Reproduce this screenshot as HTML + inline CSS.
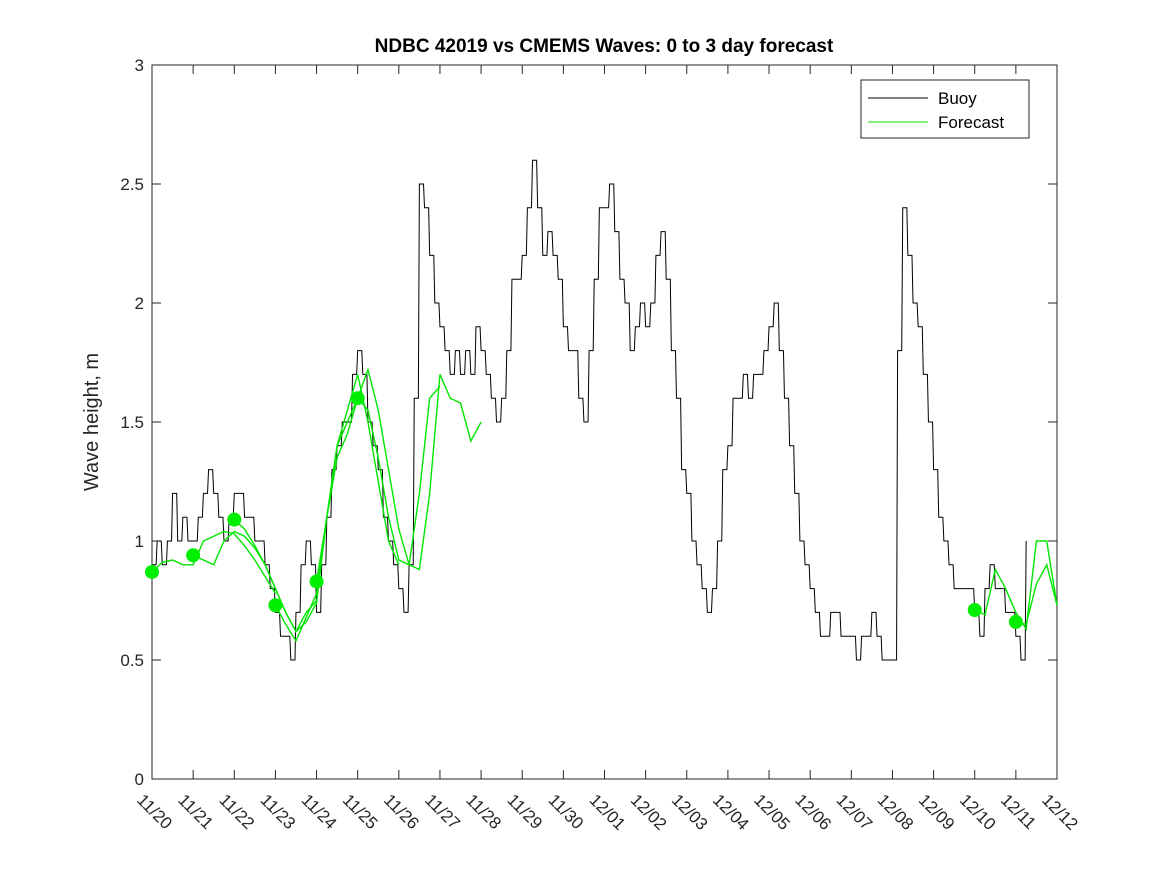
<!DOCTYPE html>
<html><head><meta charset="utf-8"><style>
body{margin:0;background:#fff}
svg{display:block;font-family:"Liberation Sans",sans-serif}
</style></head><body>
<svg id="chart" width="1167" height="875"></svg>
<script>
const dateLabels=["11/20","11/21","11/22","11/23","11/24","11/25","11/26","11/27","11/28","11/29","11/30","12/01","12/02","12/03","12/04","12/05","12/06","12/07","12/08","12/09","12/10","12/11","12/12"];
const yTicks=[0,0.5,1,1.5,2,2.5,3];
// buoy, 3-hourly values starting 11/20
const buoy=[0.9,1.0,0.9,1.0,1.2,1.0,1.1,1.0,
1.0,1.1,1.2,1.3,1.2,1.1,1.0,1.1,
1.2,1.2,1.1,1.1,1.0,1.0,0.9,0.8,
0.7,0.6,0.6,0.5,0.7,0.9,1.0,0.9,
0.7,0.9,1.1,1.3,1.4,1.5,1.5,1.7,
1.8,1.7,1.5,1.4,1.3,1.1,1.0,0.9,
0.8,0.7,0.9,1.6,2.5,2.4,2.2,2.0,
1.9,1.8,1.7,1.8,1.7,1.8,1.7,1.9,
1.8,1.7,1.6,1.5,1.6,1.8,2.1,2.1,
2.2,2.4,2.6,2.4,2.2,2.3,2.2,2.1,
1.9,1.8,1.8,1.6,1.5,1.8,2.1,2.4,
2.4,2.5,2.3,2.1,2.0,1.8,1.9,2.0,
1.9,2.0,2.2,2.3,2.1,1.8,1.6,1.3,
1.2,1.0,0.9,0.8,0.7,0.8,1.0,1.3,
1.4,1.6,1.6,1.7,1.6,1.7,1.7,1.8,
1.9,2.0,1.8,1.6,1.4,1.2,1.0,0.9,
0.8,0.7,0.6,0.6,0.7,0.7,0.6,0.6,
0.6,0.5,0.6,0.6,0.7,0.6,0.5,0.5,
0.5,1.8,2.4,2.2,2.0,1.9,1.7,1.5,
1.3,1.1,1.0,0.9,0.8,0.8,0.8,0.8,
0.7,0.6,0.8,0.9,0.8,0.8,0.7,0.7,
0.6,0.5,1.0];
// forecasts: start day + 6-hourly values
const fcStarts=[0,1,2,3,4,5,20,21];
const fcValues=[
[0.87,0.91,0.92,0.90,0.90,1.00,1.02,1.04,1.03,0.98,0.92,0.85,0.78],
[0.94,0.92,0.90,1.00,1.04,1.02,0.97,0.90,0.80,0.70,0.62,0.70,0.75],
[1.09,1.05,0.98,0.90,0.80,0.70,0.62,0.66,0.74,1.10,1.40,1.50,1.60],
[0.73,0.65,0.58,0.68,0.78,1.10,1.40,1.55,1.70,1.50,1.25,1.00,0.90],
[0.83,1.10,1.35,1.45,1.60,1.55,1.35,1.10,0.92,0.90,1.20,1.60,1.65],
[1.60,1.72,1.55,1.30,1.05,0.90,0.88,1.20,1.70,1.60,1.58,1.42,1.50],
[0.71,0.69,0.88,0.80,0.70,0.63,1.00,1.00,0.73],
[0.66,0.65,0.82,0.90,0.73]];
const NS="http://www.w3.org/2000/svg",svg=document.getElementById('chart');
const X0=152,X1=1057,Y0=779,Y1=65;
const xs=d=>X0+(X1-X0)*d/22, ys=v=>Y0-(Y0-Y1)*v/3;
function mk(t,a,p){const e=document.createElementNS(NS,t);for(const k in a)e.setAttribute(k,a[k]);(p||svg).appendChild(e);return e;}
let e=mk('rect',{x:X0,y:Y1,width:X1-X0,height:Y0-Y1,fill:'#fff',stroke:'#262626','stroke-width':1});


yTicks.forEach(v=>{
 mk('line',{x1:X0,x2:X0+9,y1:ys(v),y2:ys(v),stroke:'#262626'});
 mk('line',{x1:X1,x2:X1-9,y1:ys(v),y2:ys(v),stroke:'#262626'});
 const t=mk('text',{x:X0-8,y:ys(v)+6,'text-anchor':'end','font-size':17,fill:'#262626'});t.textContent=v;
 
 
});
dateLabels.forEach((l,i)=>{
 const x=xs(i);
 mk('line',{x1:x,x2:x,y1:Y0,y2:Y0-9,stroke:'#262626'});
 mk('line',{x1:x,x2:x,y1:Y1,y2:Y1+9,stroke:'#262626'});
 const t=mk('text',{x:x-16,y:Y0+22,'font-size':17,fill:'#262626',transform:`rotate(45 ${x-16} ${Y0+22})`});t.textContent=l;
 
 
});
let pts=[];buoy.forEach((v,i)=>{const d=i/8;pts.push(xs(d)+','+ys(v));if(i<buoy.length-1)pts.push(xs(d+0.1)+','+ys(v));});
e=mk('polyline',{points:pts.join(' '),fill:'none',stroke:'#000','stroke-width':1});


fcValues.forEach((arr,k)=>{
 const s=fcStarts[k];
 const p=mk('polyline',{points:arr.map((v,i)=>xs(s+i/4)+','+ys(v)).join(' '),fill:'none',stroke:'#00e600','stroke-width':1.4});
 
 
 const c=mk('circle',{cx:xs(s),cy:ys(arr[0]),r:7,fill:'#00ee00'});
 
 
});
const tt=mk('text',{x:604,y:52,'text-anchor':'middle','font-size':19,'font-weight':'bold',fill:'#000'});tt.textContent='NDBC 42019 vs CMEMS Waves: 0 to 3 day forecast';


const yl=mk('text',{x:98,y:422,'text-anchor':'middle','font-size':20,fill:'#262626',transform:'rotate(-90 98 422)'});yl.textContent='Wave height, m';


const lg=mk('g',{});


mk('rect',{x:861,y:80,width:168,height:58,fill:'#fff',stroke:'#262626'},lg);
mk('line',{x1:868,x2:928,y1:98,y2:98,stroke:'#000'},lg);
mk('line',{x1:868,x2:928,y1:122,y2:122,stroke:'#00e600'},lg);
let t=mk('text',{x:938,y:104,'font-size':17,fill:'#000'},lg);t.textContent='Buoy';


t=mk('text',{x:938,y:128,'font-size':17,fill:'#000'},lg);t.textContent='Forecast';


</script>
</body></html>
